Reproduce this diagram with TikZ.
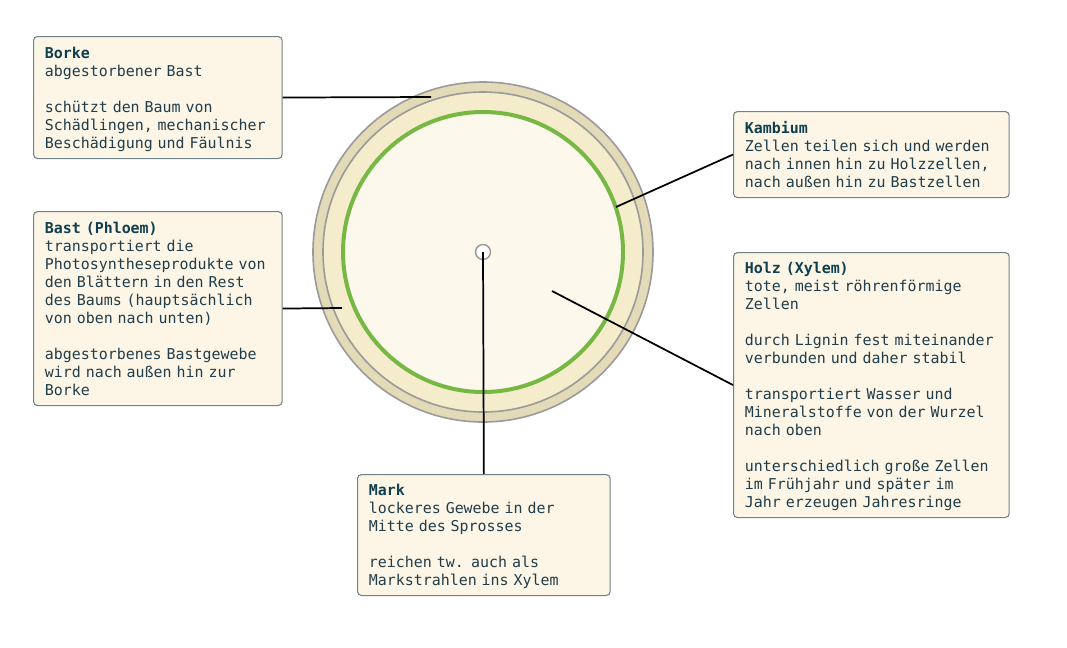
\documentclass[tikz,border=0pt]{standalone}
\usepackage{fontspec}
\setmonofont{DejaVu Sans Mono}
\usepackage{xcolor}
\definecolor{bark}{HTML}{E3DAB7}
\definecolor{phloem}{HTML}{F4ECCB}
\definecolor{xylem}{HTML}{FDF8EC}
\definecolor{ringline}{HTML}{9A9A9A}
\definecolor{cambium}{HTML}{76B843}
\definecolor{boxfill}{HTML}{FDF6E6}
\definecolor{boxline}{HTML}{6F8288}
\definecolor{boxtext}{HTML}{1F3D4A}
\definecolor{boxtitle}{HTML}{0E3F4F}
\tikzset{
  infobox/.style={draw=boxline, line width=0.8pt, fill=boxfill, rounded corners=3pt,
    anchor=north west, inner xsep=8.5pt, inner ysep=0pt, align=left,
    text=boxtext, font=\ttfamily\fontsize{11.2}{13.5}\selectfont,
    execute at begin node=\rule{0pt}{12.6pt}, execute at end node=\strut},
  connector/.style={draw=black, line width=1.3pt}
}
\newcommand{\boxtitle}[1]{{\bfseries\color{boxtitle}#1}}

\begin{document}
\begin{tikzpicture}[x=0.75pt,y=0.75pt,yscale=-1,xscale=1]
\useasboundingbox (0,0) rectangle (1067,647);

%Shape: Circle [bark]
\draw [draw=ringline, line width=1.2pt, fill=bark] (483,252) circle [radius=127.5pt];
%Shape: Circle [phloem]
\draw [draw=ringline, line width=1.2pt, fill=phloem] (483,252) circle [radius=120pt];
%Shape: Circle [cambium and xylem]
\draw [draw=cambium, line width=3pt, fill=xylem] (483,252) circle [radius=105pt];
%Shape: Circle [pith]
\draw [draw=ringline, line width=1.1pt, fill=white] (483,252) circle [radius=5.6pt];

% Points on the stem
\coordinate (borkept) at (431,97);
\coordinate (bastpt) at (342,308);
\coordinate (kambiumpt) at (616,207);
\coordinate (holzpt) at (552,291);
\coordinate (markpt) at (483,252);

% Text Node
\node [infobox, text width=169.5pt, minimum height=91.5pt] (borke) at (33,36)
  {\boxtitle{Borke}\\abgestorbener Bast\\\mbox{}\\schützt den Baum von\\Schädlingen, mechanischer\\Beschädigung und Fäulnis};
% Text Node
\node [infobox, text width=169.5pt, minimum height=145.5pt] (bast) at (33,211)
  {\boxtitle{Bast (Phloem)}\\transportiert die\\Photosyntheseprodukte von\\den Blättern in den Rest\\des Baums (hauptsächlich\\von oben nach unten)\\\mbox{}\\abgestorbenes Bastgewebe\\wird nach außen hin zur\\Borke};
% Text Node
\node [infobox, text width=189.75pt, minimum height=64.5pt] (kambium) at (733,111)
  {\boxtitle{Kambium}\\Zellen teilen sich und werden\\nach innen hin zu Holzzellen,\\nach außen hin zu Bastzellen};
% Text Node
\node [infobox, text width=189.75pt, minimum height=198.75pt] (holz) at (733,252)
  {\boxtitle{Holz (Xylem)}\\tote, meist röhrenförmige\\Zellen\\\mbox{}\\durch Lignin fest miteinander\\verbunden und daher stabil\\\mbox{}\\transportiert Wasser und\\Mineralstoffe von der Wurzel\\nach oben\\\mbox{}\\unterschiedlich große Zellen\\im Frühjahr und später im\\Jahr erzeugen Jahresringe};
% Text Node
\node [infobox, text width=172.5pt, minimum height=90.75pt] (mark) at (357,474)
  {\boxtitle{Mark}\\lockeres Gewebe in der\\Mitte des Sprosses\\\mbox{}\\reichen tw. auch als\\Markstrahlen ins Xylem};

%Straight Lines
\draw [connector] (borke.east) -- (borkept);
\draw [connector] (bast.east) -- (bastpt);
\draw [connector] (kambium.west) -- (kambiumpt);
\draw [connector] (holz.west) -- (holzpt);
\draw [connector] (mark.north) -- (markpt);

\end{tikzpicture}
\end{document}
